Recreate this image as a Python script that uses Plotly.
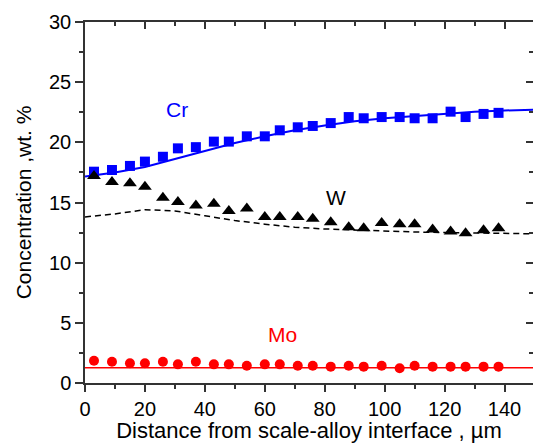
import plotly.graph_objects as go

# Measured points (distance in µm, concentration in wt.%)
distance = [3, 9, 15, 20, 26, 31, 37, 43, 48, 54, 60, 65, 71, 76, 82, 88, 93, 99, 105, 110, 116, 122, 127, 133, 138]
cr_values = [17.56, 17.7, 18.04, 18.4, 18.8, 19.5, 19.6, 20.06, 20.06, 20.5, 20.5, 21.0, 21.25, 21.36, 21.6, 22.1,
             22.0, 22.1, 22.1, 22.0, 22.0, 22.55, 22.1, 22.36, 22.45]
w_values = [17.2, 16.7, 16.6, 16.3, 15.4, 15.05, 14.75, 14.9, 14.3, 14.5, 13.8, 13.8, 13.8, 13.65, 13.35, 12.95,
            12.85, 13.3, 13.2, 13.2, 12.75, 12.6, 12.45, 12.7, 12.85]
mo_values = [1.85, 1.77, 1.64, 1.64, 1.77, 1.55, 1.77, 1.55, 1.55, 1.44, 1.55, 1.55, 1.44, 1.44, 1.36, 1.44,
             1.36, 1.44, 1.22, 1.44, 1.36, 1.36, 1.36, 1.36, 1.36]

# Model curves
model_x = [0, 10, 20, 30, 40, 50, 60, 70, 80, 90, 100, 110, 120, 130, 140, 150]
cr_model = [17.15, 17.5, 17.95, 18.6, 19.3, 19.95, 20.5, 21.0, 21.4, 21.75, 22.0, 22.2, 22.4, 22.55, 22.65, 22.7]
w_model = [13.8, 14.05, 14.4, 14.3, 13.9, 13.5, 13.2, 12.95, 12.8, 12.7, 12.6, 12.55, 12.5, 12.45, 12.42, 12.4]
mo_model = [1.27] * len(model_x)

FONT = "Arial, Liberation Sans, sans-serif"
AX = "#333333"

fig = go.Figure()
fig.add_trace(go.Scatter(x=model_x, y=cr_model, mode="lines", line=dict(color="#0000ff", width=2), showlegend=False))
fig.add_trace(go.Scatter(x=model_x, y=w_model, mode="lines", line=dict(color="black", width=1.5, dash="6px,4px"), showlegend=False))
fig.add_trace(go.Scatter(x=model_x, y=mo_model, mode="lines", line=dict(color="#ff0000", width=1.5), showlegend=False))
fig.add_trace(go.Scatter(x=distance, y=cr_values, mode="markers",
                         marker=dict(symbol="square", size=10, color="#0000ff", line=dict(width=0)), showlegend=False))
fig.add_trace(go.Scatter(x=distance, y=w_values, mode="markers",
                         marker=dict(symbol="triangle-up", size=12, color="black", line=dict(width=0)), showlegend=False))
fig.add_trace(go.Scatter(x=distance, y=mo_values, mode="markers",
                         marker=dict(symbol="circle", size=10, color="#ff0000", line=dict(width=0)), showlegend=False))
# invisible trace to activate the mirror axes
fig.add_trace(go.Scatter(x=[0], y=[0], xaxis="x2", yaxis="y2", mode="markers",
                         marker=dict(opacity=0), showlegend=False, hoverinfo="skip"))

XR = [0, 149.5]
YR = [0, 30]

fig.update_layout(
    width=533, height=443,
    margin=dict(l=85, r=0, t=22, b=60),
    plot_bgcolor="white", paper_bgcolor="white",
    font=dict(family=FONT, size=18, color="black"),
    xaxis=dict(range=XR, dtick=20, tick0=0, ticks="outside", ticklen=7, tickwidth=1.5, tickcolor=AX,
               showline=True, linecolor=AX, linewidth=1.5, showgrid=False, zeroline=False,
               minor=dict(dtick=10, ticks="outside", ticklen=4, tickwidth=1.5, tickcolor=AX),
               tickfont=dict(size=20),
               title=dict(text="Distance from scale-alloy interface , µm", font=dict(size=22), standoff=5)),
    yaxis=dict(range=YR, dtick=5, tick0=0, ticks="outside", ticklen=8, tickwidth=1.5, tickcolor=AX,
               showline=True, linecolor=AX, linewidth=1.5, showgrid=False, zeroline=False,
               minor=dict(dtick=2.5, ticks="outside", ticklen=4, tickwidth=1.5, tickcolor=AX),
               tickfont=dict(size=20),
               title=dict(text="Concentration ,wt. %", font=dict(size=21), standoff=12)),
    xaxis2=dict(range=XR, overlaying="x", side="top", dtick=20, tick0=0, ticks="inside", ticklen=7,
                tickwidth=1.5, tickcolor=AX, showticklabels=False, showline=True, linecolor=AX, linewidth=1.5,
                showgrid=False, zeroline=False,
                minor=dict(dtick=10, ticks="inside", ticklen=4, tickwidth=1.5, tickcolor=AX)),
    yaxis2=dict(range=YR, overlaying="y", side="right", dtick=5, tick0=0, ticks="inside", ticklen=7,
                tickwidth=1.5, tickcolor=AX, showticklabels=False, showline=False,
                showgrid=False, zeroline=False,
                minor=dict(dtick=2.5, ticks="inside", ticklen=4, tickwidth=1.5, tickcolor=AX)),
    annotations=[
        dict(x=30.7, y=22.7, text="Cr", showarrow=False, font=dict(size=21, color="#0000ff")),
        dict(x=83.8, y=15.4, text="W", showarrow=False, font=dict(size=21, color="black")),
        dict(x=65.8, y=4.0, text="Mo", showarrow=False, font=dict(size=21, color="#ff0000")),
    ],
)

fig.write_html("out.html", config={"displayModeBar": False},
               post_script="document.body.style.margin='0';document.body.style.padding='0';")
